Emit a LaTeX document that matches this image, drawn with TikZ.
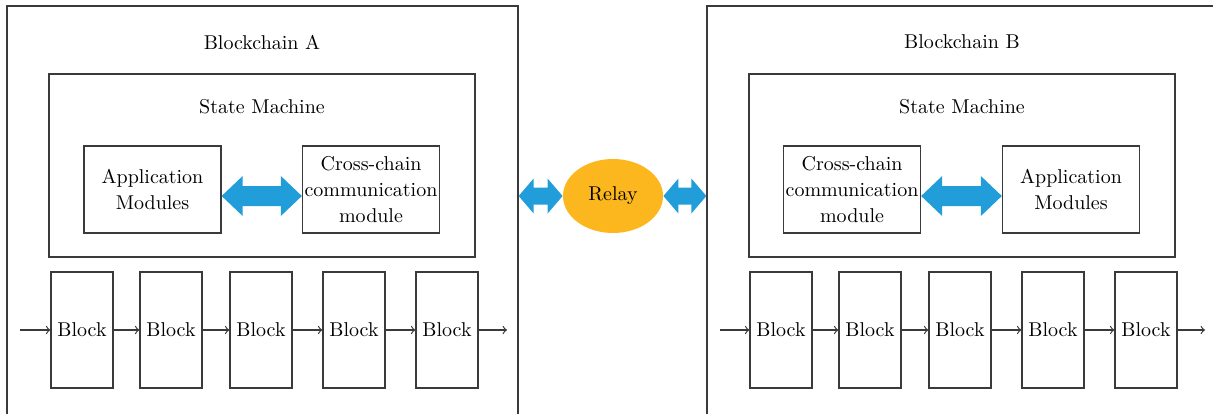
\documentclass[tikz,border=0pt]{standalone}
\usetikzlibrary{calc,shapes.geometric}
\definecolor{linkblue}{HTML}{219ED9}
\definecolor{relayorange}{HTML}{FDB71E}
\definecolor{edge}{HTML}{3A3A3A}
\tikzset{
  frame/.style={draw=edge, line width=0.65pt},
  chain/.style={frame, minimum width=255.5pt, minimum height=220pt},
  machine/.style={frame, minimum width=213pt, minimum height=91.5pt},
  module/.style={frame, minimum width=68.5pt, minimum height=43.5pt, align=center, inner sep=0.5pt, font=\fontsize{10}{13}\selectfont},
  blk/.style={frame, minimum width=31pt, minimum height=58pt, inner sep=0pt},
  link/.style={->, draw=edge, line width=0.6pt},
}
\newcommand{\fatarrow}[5]{%
  \fill[linkblue] (#1) -- ($(#1)+(#3,#4)$) -- ($(#1)+(#3,#5)$) -- ($(#2)+(-#3,#5)$) -- ($(#2)+(-#3,#4)$) -- (#2)
    -- ($(#2)+(-#3,-#4)$) -- ($(#2)+(-#3,-#5)$) -- ($(#1)+(#3,-#5)$) -- ($(#1)+(#3,-#4)$) -- cycle;}
\begin{document}
\begin{tikzpicture}[x=0.5pt, y=-0.5pt]
\useasboundingbox (0,0) rectangle (1213,413);
\clip (0,0) rectangle (1213,413);
\node[chain] (chainA) at (262.5,226) {};
\node[chain] (chainB) at (962.5,226) {};
\node (titleA) at (262,42) {Blockchain A};
\node (titleB) at (962,42) {Blockchain B};
\node[machine] (smA) at (262,165.5) {};
\node[machine] (smB) at (962,165.5) {};
\node (smlabelA) at (262,107) {State Machine};
\node (smlabelB) at (962,107) {State Machine};
\node[module] (appA) at (152.5,189.5) {Application\\Modules};
\node[module] (crossA) at (371,189.5) {Cross-chain\\communication\\module};
\node[module] (crossB) at (852,189.5) {Cross-chain\\communication\\module};
\node[module] (appB) at (1071,189.5) {Application\\Modules};
\node[ellipse, fill=relayorange, minimum width=50pt, minimum height=37pt, inner sep=0pt] (relay) at (613,196) {Relay};
\coordinate (l1) at ($(appA.east)+(0,6.5)$);
\coordinate (r1) at ($(crossA.west)+(0,6.5)$);
\coordinate (l2) at ($(crossB.east)+(0,6.5)$);
\coordinate (r2) at ($(appB.west)+(0,6.5)$);
\coordinate (l3) at (chainA.east |- relay.west);
\coordinate (r4) at (chainB.west |- relay.east);
\fatarrow{l1}{r1}{21}{20}{10}
\fatarrow{l2}{r2}{21}{20}{10}
\fatarrow{l3}{relay.west}{15}{17.5}{8.5}
\fatarrow{relay.east}{r4}{15}{17.5}{8.5}
\foreach \x [count=\i] in {82,171,261,354,447}{
    \node[blk] (a\i) at (\x,330) {Block};
    \node[blk] (b\i) at (\x+699,330) {Block};
}
\coordinate (inA) at (20,330);
\coordinate (outA) at (507,330);
\coordinate (inB) at (720,330);
\coordinate (outB) at (1205,330);
\draw[link] (inA) -- (a1);
\draw[link] (inB) -- (b1);
\foreach \i/\j in {1/2,2/3,3/4,4/5}{
    \draw[link] (a\i) -- (a\j);
    \draw[link] (b\i) -- (b\j);
}
\draw[link] (a5) -- (outA);
\draw[link] (b5) -- (outB);
\end{tikzpicture}
\end{document}
